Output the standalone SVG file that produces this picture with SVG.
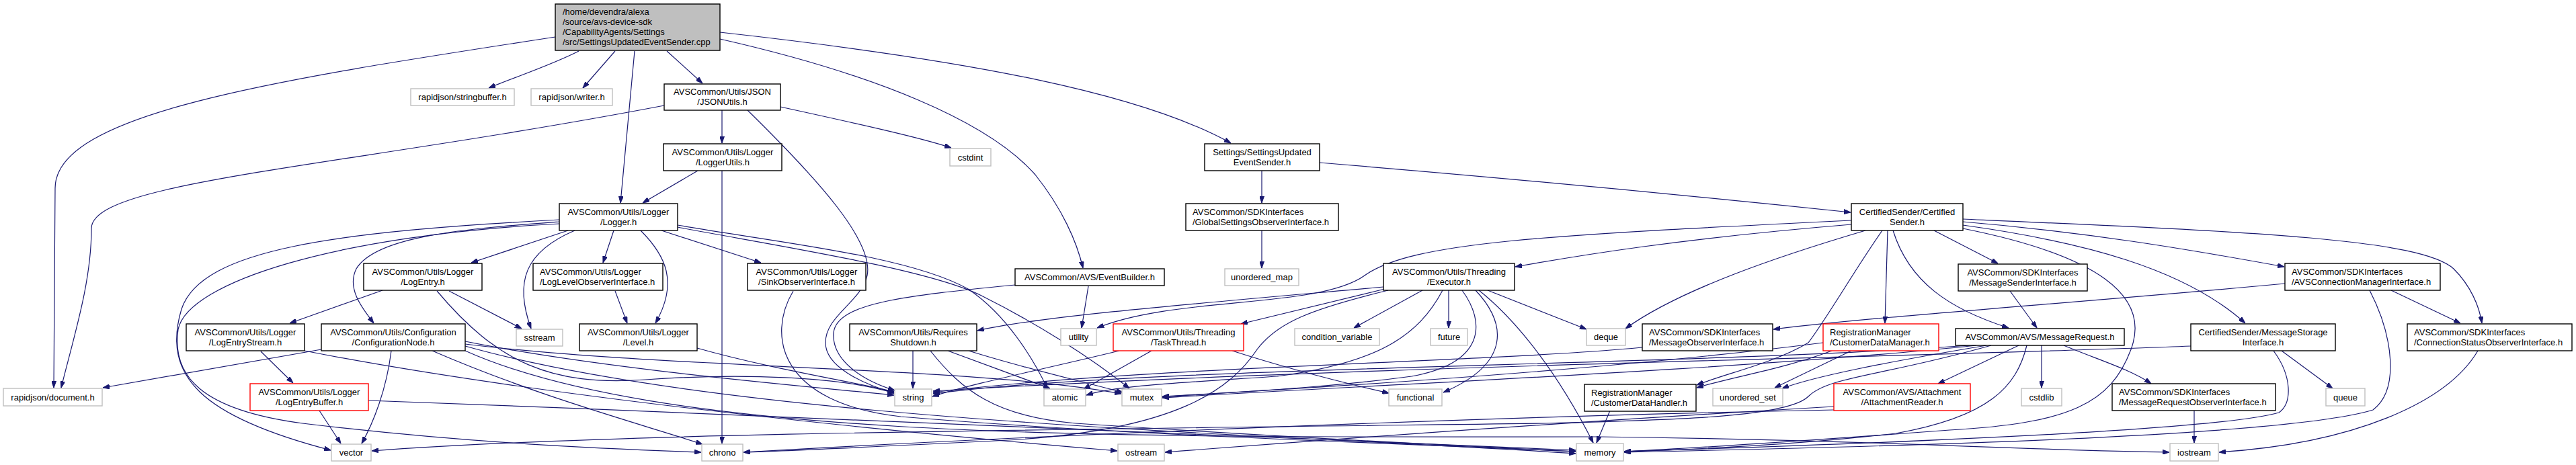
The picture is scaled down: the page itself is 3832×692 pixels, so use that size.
<svg xmlns="http://www.w3.org/2000/svg" width="3832" height="692" viewBox="0 0 3832 692">
<style>
text{font-family:"Liberation Sans",Arial,Helvetica,sans-serif;font-size:13px;fill:#000}
.c{text-anchor:middle}
rect.d{fill:#fff;stroke:#000;stroke-width:1.4}
rect.x{fill:#fff;stroke:#bfbfbf;stroke-width:1.4}
rect.r{fill:#fff;stroke:#ff0000;stroke-width:1.4}
rect.m{fill:#bfbfbf;stroke:#000;stroke-width:1.4}
#edges path{fill:none;stroke:#191970;stroke-width:1.2;marker-end:url(#ah)}
</style>
<defs>
<marker id="ah" viewBox="0 0 10 7" refX="10" refY="3.5" markerWidth="10" markerHeight="7" markerUnits="userSpaceOnUse" orient="auto"><path d="M0,0L10,3.5L0,7z" fill="#191970" stroke="#191970" stroke-width="1"/></marker>
</defs>
<rect width="3832" height="692" fill="#fff"/>
<g id="edges">
<path d="M861,76 C820,97 765,115 727,131"/>
<path d="M915,76 L867,131"/>
<path d="M992,76 L1045,124"/>
<path d="M944,76 L923,302"/>
<path d="M826,55 C400,120 82,170 82,280 L80,577"/>
<path d="M1071,48 C1450,90 1700,140 1831,213"/>
<path d="M1071,58 C1300,110 1470,180 1540,260 C1580,310 1602,360 1611,399"/>
<path d="M988,157 C500,250 136,270 136,340 C136,420 110,500 91,577"/>
<path d="M1074,164 L1074,213"/>
<path d="M1161,159 C1280,185 1370,205 1415,220"/>
<path d="M1112,164 C1220,270 1300,360 1290,410 C1280,450 1228,470 1228,510 C1228,545 1280,570 1330,585"/>
<path d="M1038,254 L956,302"/>
<path d="M1074,254 L1074,660"/>
<path d="M845,343 L701,391"/>
<path d="M913,343 L897,391"/>
<path d="M953,343 C990,380 1010,420 975,481"/>
<path d="M984,343 L1132,391"/>
<path d="M855,343 C780,375 765,420 790,489"/>
<path d="M832,330 C700,340 560,350 530,400 C515,430 540,460 556,481"/>
<path d="M832,327 C500,345 300,370 270,460 C240,560 300,620 492,670"/>
<path d="M832,333 C500,350 280,420 265,490 C255,560 300,610 450,630 C700,660 900,668 1043,673"/>
<path d="M1008,335 C1150,360 1350,380 1440,430 C1500,470 1540,540 1558,578"/>
<path d="M1008,338 C1150,365 1380,400 1460,440 C1540,480 1620,530 1680,578"/>
<path d="M569,432 L431,481"/>
<path d="M668,433 L776,489"/>
<path d="M650,433 C740,540 820,575 960,565 C1100,555 1250,560 1330,585"/>
<path d="M388,523 L436,570"/>
<path d="M453,522 C800,590 1300,640 1662,671"/>
<path d="M475,611 L507,660"/>
<path d="M548,596 C1200,620 1900,650 2344,670"/>
<path d="M478,520 L153,577"/>
<path d="M582,522 C575,580 555,630 538,660"/>
<path d="M643,522 C800,590 950,630 1045,661"/>
<path d="M692,508 C900,550 1200,575 1330,588"/>
<path d="M692,512 C1000,550 1450,545 1668,586"/>
<path d="M692,515 C1100,630 1900,645 2344,675"/>
<path d="M692,522 C1000,660 1700,650 2380,650 C2800,655 3000,670 3227,673"/>
<path d="M915,433 L933,481"/>
<path d="M1037,518 C1150,550 1280,570 1330,583"/>
<path d="M1180,433 C1140,500 1160,600 1340,620 C1700,650 2100,660 2344,672"/>
<path d="M1619,426 L1609,488"/>
<path d="M1510,424 C1350,440 1245,450 1240,495 C1237,535 1280,565 1331,581"/>
<path d="M1358,522 L1358,578"/>
<path d="M1410,522 L1562,578"/>
<path d="M1441,522 C1530,550 1620,570 1670,584"/>
<path d="M1384,522 C1430,580 1480,620 1600,630 C1900,650 2200,665 2344,672"/>
<path d="M1665,522 C1550,550 1450,570 1387,590"/>
<path d="M1713,522 L1612,579"/>
<path d="M1833,522 C1920,550 2000,570 2066,585"/>
<path d="M2060,430 L1846,482"/>
<path d="M2116,432 L2014,488"/>
<path d="M2155,432 L2155,488"/>
<path d="M2195,432 C2240,480 2250,540 2147,584"/>
<path d="M2175,432 C2210,480 2210,540 2100,560 C1950,580 1800,585 1729,591"/>
<path d="M2200,432 C2260,480 2320,560 2370,659"/>
<path d="M2213,432 L2360,490"/>
<path d="M2146,432 C2110,500 2050,540 1900,560 C1750,570 1660,574 1616,588"/>
<path d="M2058,427 C1800,450 1550,470 1454,492"/>
<path d="M2065,432 C1950,460 1900,480 1870,520 C1830,580 1750,640 1500,655 C1300,665 1200,670 1106,673"/>
<path d="M2754,334 C2500,355 2350,380 2254,397"/>
<path d="M2754,328 C2300,350 2100,360 2030,410 C1960,460 1750,440 1632,488"/>
<path d="M2775,343 C2650,380 2500,430 2418,489"/>
<path d="M2800,343 C2760,400 2720,470 2690,510 C2640,540 2570,555 2524,573"/>
<path d="M2808,343 L2804,481"/>
<path d="M2816,343 C2840,420 2900,460 2988,488"/>
<path d="M2877,343 L2972,392"/>
<path d="M2920,326 C3350,345 3600,355 3650,400 C3675,425 3688,455 3692,481"/>
<path d="M2920,330 C3100,345 3250,370 3398,397"/>
<path d="M2920,335 C3100,360 3250,400 3340,481"/>
<path d="M2920,340 C3120,380 3200,440 3170,520 C3140,600 3080,630 2900,640 C2700,655 2500,668 2416,672"/>
<path d="M2930,514 C2500,545 1700,545 1388,586"/>
<path d="M2940,514 C2600,550 2000,575 1729,592"/>
<path d="M2712,510 C2400,550 2000,575 1729,590"/>
<path d="M2443,517 C2200,540 1700,545 1388,584"/>
<path d="M3259,515 C2900,530 2000,545 1388,582"/>
<path d="M2395,611 L2375,659"/>
<path d="M2725,522 C2650,550 2580,560 2524,577"/>
<path d="M2754,522 L2640,577"/>
<path d="M2955,514 C2800,540 2700,560 2651,578"/>
<path d="M3003,514 L2883,571"/>
<path d="M3037,514 L3037,577"/>
<path d="M3015,514 C3000,575 2960,620 2820,645 C2650,665 2480,670 2416,672"/>
<path d="M3070,514 C3120,535 3170,550 3200,571"/>
<path d="M2962,514 C2800,560 2720,560 2690,590 C2660,620 2500,625 2300,630 C1500,640 900,645 553,671"/>
<path d="M2728,610 C2200,620 1500,650 1106,673"/>
<path d="M2728,605 C2300,630 1900,660 1733,673"/>
<path d="M2990,433 L3030,488"/>
<path d="M3399,422 C3100,450 2800,470 2638,490"/>
<path d="M3557,432 L3660,481"/>
<path d="M3525,432 C3560,500 3570,580 3530,610 C3400,650 2800,665 2416,673"/>
<path d="M3394,522 L3470,578"/>
<path d="M3382,522 C3410,560 3410,600 3390,614 C3300,640 2800,660 2416,672"/>
<path d="M3686,522 C3640,600 3500,660 3301,673"/>
<path d="M3264,611 L3264,659"/>
<path d="M1877,343 L1877,399"/>
<path d="M1877,254 L1877,302"/>
<path d="M1963,242 C2300,270 2600,300 2753,316"/>
</g>
<g id="n_main"><rect class="m" x="826" y="6" width="245" height="69"/><text><tspan x="837" y="21.5">/home/devendra/alexa</tspan><tspan x="837" y="36.5">/source/avs-device-sdk</tspan><tspan x="837" y="51.5">/CapabilityAgents/Settings</tspan><tspan x="837" y="66.5">/src/SettingsUpdatedEventSender.cpp</tspan></text></g>
<g id="n_stringbuffer"><rect class="x" x="611" y="132" width="154" height="25"/><text class="c" x="688" y="149">rapidjson/stringbuffer.h</text></g>
<g id="n_writer"><rect class="x" x="790" y="132" width="121" height="25"/><text class="c" x="850.5" y="149">rapidjson/writer.h</text></g>
<g id="n_jsonutils"><rect class="d" x="988" y="125" width="173" height="39"/><text class="c"><tspan x="1074.5" y="141">AVSCommon/Utils/JSON</tspan><tspan x="1074.5" y="156">/JSONUtils.h</tspan></text></g>
<g id="n_cstdint"><rect class="x" x="1413" y="221" width="61" height="26"/><text class="c" x="1443.5" y="238.5">cstdint</text></g>
<g id="n_loggerutils"><rect class="d" x="987" y="214" width="176" height="40"/><text class="c"><tspan x="1075" y="230.5">AVSCommon/Utils/Logger</tspan><tspan x="1075" y="245.5">/LoggerUtils.h</tspan></text></g>
<g id="n_logger"><rect class="d" x="832" y="303" width="176" height="40"/><text class="c"><tspan x="920" y="319.5">AVSCommon/Utils/Logger</tspan><tspan x="920" y="334.5">/Logger.h</tspan></text></g>
<g id="n_settings"><rect class="d" x="1792" y="214" width="171" height="40"/><text class="c"><tspan x="1877.5" y="230.5">Settings/SettingsUpdated</tspan><tspan x="1877.5" y="245.5">EventSender.h</tspan></text></g>
<g id="n_globalsettings"><rect class="d" x="1764" y="303" width="227" height="40"/><text><tspan x="1774" y="319.5">AVSCommon/SDKInterfaces</tspan><tspan x="1774" y="334.5">/GlobalSettingsObserverInterface.h</tspan></text></g>
<g id="n_certifiedsender"><rect class="d" x="2754" y="303" width="166" height="40"/><text class="c"><tspan x="2837" y="319.5">CertifiedSender/Certified</tspan><tspan x="2837" y="334.5">Sender.h</tspan></text></g>
<g id="n_logentry"><rect class="d" x="541" y="392" width="176" height="40"/><text class="c"><tspan x="629" y="408.5">AVSCommon/Utils/Logger</tspan><tspan x="629" y="423.5">/LogEntry.h</tspan></text></g>
<g id="n_loglevelobserver"><rect class="d" x="793" y="392" width="193" height="40"/><text><tspan x="803" y="408.5">AVSCommon/Utils/Logger</tspan><tspan x="803" y="423.5">/LogLevelObserverInterface.h</tspan></text></g>
<g id="n_sinkobserver"><rect class="d" x="1112" y="392" width="176" height="40"/><text class="c"><tspan x="1200" y="408.5">AVSCommon/Utils/Logger</tspan><tspan x="1200" y="423.5">/SinkObserverInterface.h</tspan></text></g>
<g id="n_eventbuilder"><rect class="d" x="1510" y="400" width="222" height="25"/><text class="c" x="1621" y="417">AVSCommon/AVS/EventBuilder.h</text></g>
<g id="n_unordered_map"><rect class="x" x="1822" y="400" width="110" height="25"/><text class="c" x="1877" y="417">unordered_map</text></g>
<g id="n_executor"><rect class="d" x="2058" y="392" width="195" height="40"/><text class="c"><tspan x="2155.5" y="408.5">AVSCommon/Utils/Threading</tspan><tspan x="2155.5" y="423.5">/Executor.h</tspan></text></g>
<g id="n_messagesender"><rect class="d" x="2913" y="393" width="192" height="40"/><text class="c"><tspan x="3009" y="409.5">AVSCommon/SDKInterfaces</tspan><tspan x="3009" y="424.5">/MessageSenderInterface.h</tspan></text></g>
<g id="n_avsconnmgr"><rect class="d" x="3399" y="392" width="231" height="40"/><text><tspan x="3409" y="408.5">AVSCommon/SDKInterfaces</tspan><tspan x="3409" y="423.5">/AVSConnectionManagerInterface.h</tspan></text></g>
<g id="n_logentrystream"><rect class="d" x="277" y="482" width="176" height="40"/><text class="c"><tspan x="365" y="498.5">AVSCommon/Utils/Logger</tspan><tspan x="365" y="513.5">/LogEntryStream.h</tspan></text></g>
<g id="n_confignode"><rect class="d" x="478" y="482" width="214" height="40"/><text class="c"><tspan x="585" y="498.5">AVSCommon/Utils/Configuration</tspan><tspan x="585" y="513.5">/ConfigurationNode.h</tspan></text></g>
<g id="n_sstream"><rect class="x" x="768" y="490" width="69" height="25"/><text class="c" x="802.5" y="507">sstream</text></g>
<g id="n_level"><rect class="d" x="862" y="482" width="175" height="40"/><text class="c"><tspan x="949.5" y="498.5">AVSCommon/Utils/Logger</tspan><tspan x="949.5" y="513.5">/Level.h</tspan></text></g>
<g id="n_requiresshutdown"><rect class="d" x="1264" y="482" width="189" height="40"/><text class="c"><tspan x="1358.5" y="498.5">AVSCommon/Utils/Requires</tspan><tspan x="1358.5" y="513.5">Shutdown.h</tspan></text></g>
<g id="n_utility"><rect class="x" x="1578" y="489" width="53" height="25"/><text class="c" x="1604.5" y="506">utility</text></g>
<g id="n_taskthread"><rect class="r" x="1656" y="482" width="194" height="40"/><text class="c"><tspan x="1753" y="498.5">AVSCommon/Utils/Threading</tspan><tspan x="1753" y="513.5">/TaskThread.h</tspan></text></g>
<g id="n_condvar"><rect class="x" x="1926" y="489" width="126" height="25"/><text class="c" x="1989" y="506">condition_variable</text></g>
<g id="n_future"><rect class="x" x="2128" y="489" width="55" height="25"/><text class="c" x="2155.5" y="506">future</text></g>
<g id="n_deque"><rect class="x" x="2360" y="489" width="58" height="25"/><text class="c" x="2389" y="506">deque</text></g>
<g id="n_messageobserver"><rect class="d" x="2443" y="482" width="194" height="40"/><text><tspan x="2453" y="498.5">AVSCommon/SDKInterfaces</tspan><tspan x="2453" y="513.5">/MessageObserverInterface.h</tspan></text></g>
<g id="n_customerdatamanager"><rect class="r" x="2712" y="482" width="172" height="40"/><text><tspan x="2722" y="498.5">RegistrationManager</tspan><tspan x="2722" y="513.5">/CustomerDataManager.h</tspan></text></g>
<g id="n_messagerequest"><rect class="d" x="2909" y="489" width="251" height="25"/><text class="c" x="3034.5" y="506">AVSCommon/AVS/MessageRequest.h</text></g>
<g id="n_messagestorage"><rect class="d" x="3259" y="482" width="215" height="40"/><text class="c"><tspan x="3366.5" y="498.5">CertifiedSender/MessageStorage</tspan><tspan x="3366.5" y="513.5">Interface.h</tspan></text></g>
<g id="n_connstatus"><rect class="d" x="3581" y="482" width="245" height="40"/><text><tspan x="3591" y="498.5">AVSCommon/SDKInterfaces</tspan><tspan x="3591" y="513.5">/ConnectionStatusObserverInterface.h</tspan></text></g>
<g id="n_document"><rect class="x" x="5" y="578" width="147" height="26"/><text class="c" x="78.5" y="595.5">rapidjson/document.h</text></g>
<g id="n_logentrybuffer"><rect class="r" x="372" y="571" width="176" height="40"/><text class="c"><tspan x="460" y="587.5">AVSCommon/Utils/Logger</tspan><tspan x="460" y="602.5">/LogEntryBuffer.h</tspan></text></g>
<g id="n_string"><rect class="x" x="1331" y="579" width="55" height="25"/><text class="c" x="1358.5" y="596">string</text></g>
<g id="n_atomic"><rect class="x" x="1553" y="579" width="62" height="25"/><text class="c" x="1584" y="596">atomic</text></g>
<g id="n_mutex"><rect class="x" x="1669" y="579" width="59" height="25"/><text class="c" x="1698.5" y="596">mutex</text></g>
<g id="n_functional"><rect class="x" x="2066" y="579" width="79" height="25"/><text class="c" x="2105.5" y="596">functional</text></g>
<g id="n_customerdatahandler"><rect class="d" x="2357" y="572" width="166" height="40"/><text><tspan x="2367" y="588.5">RegistrationManager</tspan><tspan x="2367" y="603.5">/CustomerDataHandler.h</tspan></text></g>
<g id="n_unordered_set"><rect class="x" x="2548" y="578" width="104" height="26"/><text class="c" x="2600" y="595.5">unordered_set</text></g>
<g id="n_attachmentreader"><rect class="r" x="2728" y="571" width="203" height="40"/><text class="c"><tspan x="2829.5" y="587.5">AVSCommon/AVS/Attachment</tspan><tspan x="2829.5" y="602.5">/AttachmentReader.h</tspan></text></g>
<g id="n_cstdlib"><rect class="x" x="3007" y="578" width="60" height="26"/><text class="c" x="3037" y="595.5">cstdlib</text></g>
<g id="n_msgreqobserver"><rect class="d" x="3142" y="571" width="243" height="40"/><text><tspan x="3152" y="587.5">AVSCommon/SDKInterfaces</tspan><tspan x="3152" y="602.5">/MessageRequestObserverInterface.h</tspan></text></g>
<g id="n_queue"><rect class="x" x="3460" y="578" width="58" height="26"/><text class="c" x="3489" y="595.5">queue</text></g>
<g id="n_vector"><rect class="x" x="493" y="661" width="59" height="25"/><text class="c" x="522.5" y="678">vector</text></g>
<g id="n_chrono"><rect class="x" x="1044" y="661" width="61" height="25"/><text class="c" x="1074.5" y="678">chrono</text></g>
<g id="n_ostream"><rect class="x" x="1663" y="661" width="69" height="25"/><text class="c" x="1697.5" y="678">ostream</text></g>
<g id="n_memory"><rect class="x" x="2345" y="660" width="70" height="26"/><text class="c" x="2380" y="677.5">memory</text></g>
<g id="n_iostream"><rect class="x" x="3228" y="660" width="72" height="26"/><text class="c" x="3264" y="677.5">iostream</text></g>
</svg>
